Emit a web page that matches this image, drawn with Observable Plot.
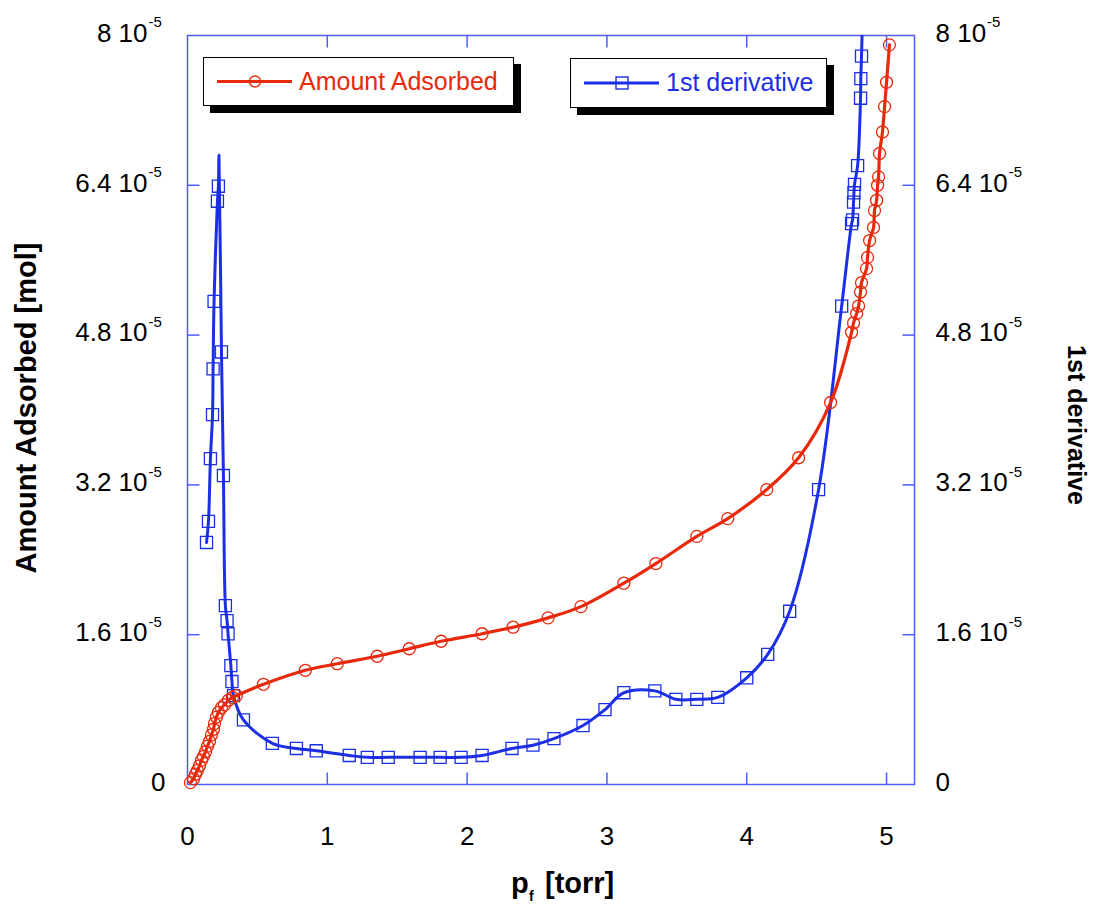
<!DOCTYPE html>
<html><head><meta charset="utf-8">
<script src="https://cdn.jsdelivr.net/npm/d3@7"></script>
<script src="https://cdn.jsdelivr.net/npm/@observablehq/plot@0.6"></script>
<style>
body{margin:0;background:#fff;}
#wrap{position:relative;width:1094px;height:911px;font-family:"Liberation Sans",Arial,sans-serif;}
.legend{position:absolute;background:#fff;border:1.5px solid #000;box-shadow:7px 7px 0 #000;box-sizing:border-box;}
.legend svg{position:absolute;left:0;top:0;overflow:visible;}
.legend span{position:absolute;font-size:25px;line-height:25px;white-space:nowrap;}
</style></head><body><div id="wrap"></div>
<script>
// ---- data (amounts in units of 1e-5 mol) ----
const adsPressure = [0.021,0.043,0.057,0.071,0.086,0.100,0.114,0.129,0.143,0.157,0.171,0.186,0.193,0.207,0.221,0.243,0.264,0.293,0.321,0.350,
  0.543,0.843,1.071,1.357,1.586,1.814,2.107,2.329,2.579,2.814,3.121,3.350,3.643,3.864,4.143,4.371,4.600,
  4.750,4.764,4.786,4.800,4.814,4.821,4.857,4.864,4.879,4.907,4.914,4.929,4.936,4.943,4.950,4.971,4.986,5.000,5.021];
const adsAmount = [0.02,0.06,0.11,0.15,0.20,0.26,0.30,0.35,0.41,0.46,0.53,0.59,0.65,0.72,0.77,0.82,0.85,0.90,0.93,0.95,
  1.07,1.22,1.29,1.37,1.45,1.53,1.61,1.68,1.78,1.90,2.15,2.36,2.65,2.84,3.15,3.49,4.08,
  4.83,4.93,5.03,5.11,5.26,5.36,5.51,5.63,5.81,5.95,6.13,6.24,6.40,6.49,6.74,6.97,7.24,7.50,7.90];

const derivPressure = [0.136,0.150,0.164,0.179,0.183,0.190,0.214,0.221,0.243,0.257,0.271,0.283,0.290,0.310,0.318,0.329,0.400,
  0.607,0.779,0.921,1.157,1.286,1.436,1.664,1.807,1.957,2.107,2.321,2.471,2.621,2.829,2.986,3.121,3.343,3.493,3.643,3.793,
  4.000,4.150,4.307,4.514,4.679,4.750,4.757,4.764,4.767,4.771,4.793,4.814,4.816,4.821];
const derivValue = [2.585,2.81,3.48,3.95,4.44,5.16,6.23,6.39,4.62,3.30,1.91,1.75,1.61,1.27,1.10,0.95,0.69,
  0.44,0.385,0.36,0.31,0.29,0.29,0.29,0.29,0.29,0.31,0.385,0.42,0.49,0.63,0.80,0.98,1.00,0.91,0.91,0.93,
  1.14,1.39,1.85,3.15,5.11,5.99,6.03,6.22,6.32,6.41,6.61,7.33,7.54,7.78];
// extra points of the smooth fitted curve (peak overshoot and exit at the top)
const derivFitPressure = [0.225, 4.830];
const derivFitValue = [6.72, 8.30];

const xTicks = [0,1,2,3,4,5];
const yTicks = [0,1.6,3.2,4.8,6.4,8];
const yTickLabels = ["0","1.6","3.2","4.8","6.4","8"];
const exponentLabel = "-5";
const xTitle = ["p","f","[torr]"];
const yTitleLeft = "Amount Adsorbed [mol]";
const yTitleRight = "1st derivative";
const legendLabels = ["Amount Adsorbed","1st derivative"];

// ---- build ----
const red = "#e8290c", blue = "#1c2ee6", frameCol = "#4d5df5";
const ads = adsPressure.map((p,i)=>({p, v: adsAmount[i]}));
const deriv = derivPressure.map((p,i)=>({p, v: derivValue[i]}));
const derivLine = deriv.concat(derivFitPressure.map((p,i)=>({p, v: derivFitValue[i]}))).sort((a,b)=>a.p-b.p);

const font = '"Liberation Sans", Arial, sans-serif';
const fs = 26;
const cv = document.createElement("canvas").getContext("2d");
cv.font = `${fs}px "Liberation Sans", Arial, sans-serif`;
const w = s => cv.measureText(s).width;

const tick = (dx,dy)=>({draw(c){c.moveTo(0,0);c.lineTo(dx,dy);}});
const innerY = yTicks.slice(1,-1), innerX = xTicks.slice(1);
const nz = yTicks.map((d,i)=>({d, lab: yTickLabels[i]})).filter(o=>o.d!==0);

const rightExp = nz.map(o => Plot.text([o],{x:5.2,y:"d",text:()=>exponentLabel,textAnchor:"start",
  dx: 21 + w(o.lab+" 10") + 1, dy:-13, fontSize:15, fill:"#000"}));

const chart = Plot.plot({
  width:1094, height:911,
  marginLeft:187, marginRight:180, marginTop:35, marginBottom:127,
  x:{domain:[0,5.2], axis:null},
  y:{domain:[0,8], axis:null},
  style:{fontFamily:font, background:"white", overflow:"visible", color:"#000"},
  marks:[
    Plot.frame({stroke:frameCol, strokeWidth:1.5}),
    Plot.dot(innerY,{x:0,y:d=>d,symbol:tick(12,0),fill:"none",stroke:frameCol,strokeWidth:1.5}),
    Plot.dot(innerY,{x:5.2,y:d=>d,symbol:tick(-12,0),fill:"none",stroke:frameCol,strokeWidth:1.5}),
    Plot.dot(innerX,{x:d=>d,y:0,symbol:tick(0,-12),fill:"none",stroke:frameCol,strokeWidth:1.5}),
    Plot.dot(innerX,{x:d=>d,y:8,symbol:tick(0,12),fill:"none",stroke:frameCol,strokeWidth:1.5}),
    // left tick labels
    Plot.text(nz,{x:0,y:"d",text:o=>o.lab+" 10",textAnchor:"end",dx:-40,dy:-2,fontSize:fs,fill:"#000"}),
    Plot.text(nz,{x:0,y:"d",text:()=>exponentLabel,textAnchor:"start",dx:-39,dy:-13,fontSize:15,fill:"#000"}),
    Plot.text([0],{x:0,y:0,text:()=>yTickLabels[0],textAnchor:"end",dx:-22,dy:-2,fontSize:fs,fill:"#000"}),
    // right tick labels
    Plot.text(nz,{x:5.2,y:"d",text:o=>o.lab+" 10",textAnchor:"start",dx:21,dy:-2,fontSize:fs,fill:"#000"}),
    ...rightExp,
    Plot.text([0],{x:5.2,y:0,text:()=>yTickLabels[0],textAnchor:"start",dx:21,dy:-2,fontSize:fs,fill:"#000"}),
    // x tick labels
    Plot.text(xTicks,{x:d=>d,y:0,text:d=>String(d),dy:52,fontSize:fs,fill:"#000"}),
    // titles
    Plot.text([yTitleLeft],{frameAnchor:"left",dx:-161,dy:-2,rotate:-90,textAnchor:"middle",lineAnchor:"middle",fontSize:29,fontWeight:"bold",fill:"#000"}),
    Plot.text([yTitleRight],{frameAnchor:"right",dx:161,dy:15,rotate:90,textAnchor:"middle",lineAnchor:"middle",fontSize:25,fontWeight:"bold",fill:"#000"}),
    Plot.text([xTitle[0]],{frameAnchor:"bottom",dx:-40,dy:99,textAnchor:"start",lineAnchor:"middle",fontSize:29,fontWeight:"bold",fill:"#000"}),
    Plot.text([xTitle[1]],{frameAnchor:"bottom",dx:-22,dy:112,textAnchor:"start",lineAnchor:"middle",fontSize:14,fontWeight:"bold",fill:"#000"}),
    Plot.text([xTitle[2]],{frameAnchor:"bottom",dx:-6,dy:99,textAnchor:"start",lineAnchor:"middle",fontSize:29,fontWeight:"bold",fill:"#000"}),
    // series
    Plot.line(derivLine,{x:"p",y:"v",stroke:blue,strokeWidth:3,curve:"catmull-rom",clip:true}),
    Plot.dot(deriv,{x:"p",y:"v",symbol:"square",r:6.8,fill:"none",stroke:blue,strokeWidth:1.3}),
    Plot.line(ads,{x:"p",y:"v",stroke:red,strokeWidth:3.2,curve:"catmull-rom",clip:true}),
    Plot.dot(ads,{x:"p",y:"v",symbol:"circle",r:6,fill:"none",stroke:red,strokeWidth:1.3})
  ]
});
const wrap = document.getElementById("wrap");
wrap.appendChild(chart);

// legend boxes
function legend(left, top, width, height, color, label, sym){
  const d = document.createElement("div");
  d.className="legend";
  d.style.left=left+"px"; d.style.top=top+"px"; d.style.width=width+"px"; d.style.height=height+"px";
  const s = document.createElementNS("http://www.w3.org/2000/svg","svg");
  s.setAttribute("width",width); s.setAttribute("height",height);
  const cy = height/2 - 1;
  s.innerHTML = `<line x1="13" x2="88" y1="${cy}" y2="${cy}" stroke="${color}" stroke-width="3"/>` +
    (sym==="circle" ? `<circle cx="51" cy="${cy}" r="5.5" fill="none" stroke="${color}" stroke-width="1.4"/>`
                    : `<rect x="45" y="${cy-6}" width="12" height="12" fill="none" stroke="${color}" stroke-width="1.4"/>`);
  d.appendChild(s);
  const sp = document.createElement("span");
  sp.textContent = label; sp.style.color = color; sp.style.left="95px"; sp.style.top=(cy-13)+"px";
  d.appendChild(sp);
  wrap.appendChild(d);
}
legend(203,57,311,49,red,legendLabels[0],"circle");
legend(570,58,257,50,blue,legendLabels[1],"square");
</script>
</body></html>
